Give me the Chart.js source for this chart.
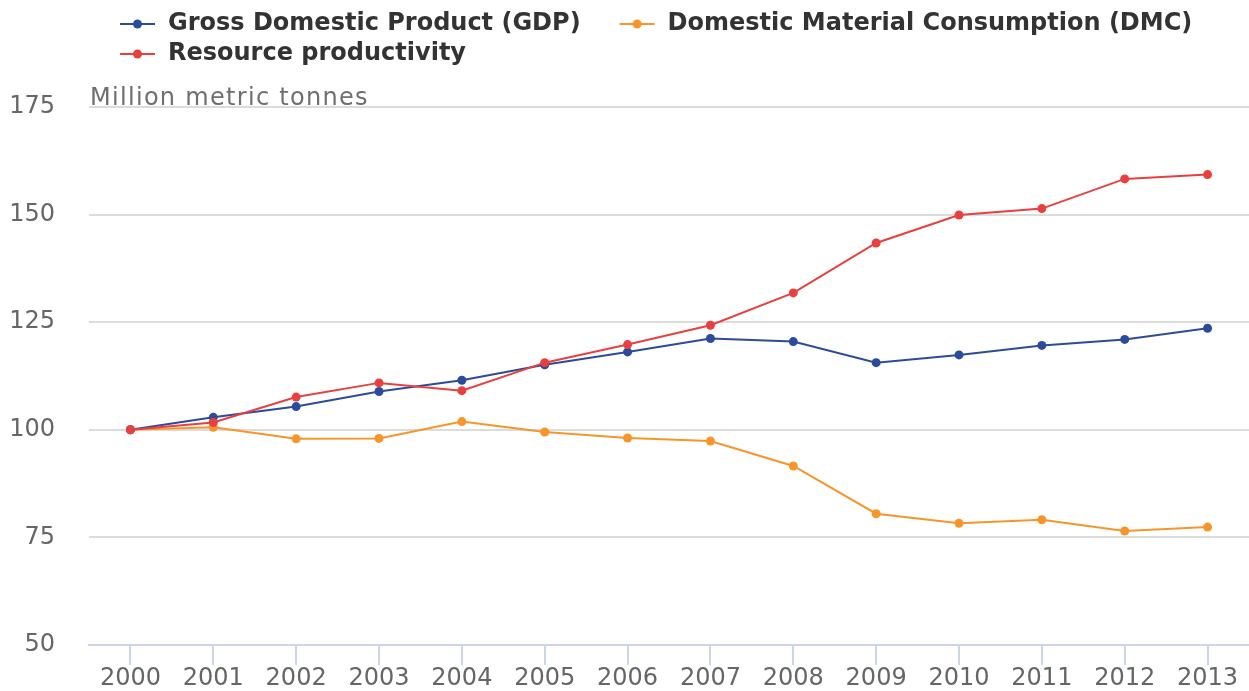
<!DOCTYPE html>
<html>
<head>
<meta charset="utf-8">
<script src="https://cdn.jsdelivr.net/npm/chart.js@4.4.1/dist/chart.umd.min.js"></script>
<style>
  html, body { margin: 0; padding: 0; background: #fff; }
  #wrap { width: 1249px; height: 691px; }
</style>
</head>
<body>
<div id="wrap"><canvas id="resourceChart" width="1249" height="691"></canvas></div>
<script>
const years = ["2000", "2001", "2002", "2003", "2004", "2005", "2006", "2007", "2008", "2009", "2010", "2011", "2012", "2013"];
const gdp = [100, 102.9, 105.4, 108.9, 111.5, 115.1, 118.1, 121.2, 120.5, 115.6, 117.4, 119.6, 121.0, 123.6];
const dmc = [100, 100.6, 97.9, 98.0, 101.9, 99.5, 98.1, 97.4, 91.6, 80.5, 78.3, 79.1, 76.5, 77.4];
const resourceProductivity = [100, 101.7, 107.6, 110.9, 109.1, 115.6, 119.8, 124.3, 131.8, 143.4, 149.9, 151.4, 158.3, 159.3];
const unitText = "Million metric tonnes";

const BLUE = "#2c4b9b";
const ORANGE = "#f7952a";
const RED = "#e8403f";

Chart.defaults.font.family = "'DejaVu Sans', sans-serif";

// little line-with-dot used as the legend symbol
const legendMarker = (color) => {
  const c = document.createElement("canvas");
  c.width = 69;
  c.height = 12;
  const ctx = c.getContext("2d");
  ctx.strokeStyle = color;
  ctx.lineWidth = 2;
  ctx.beginPath();
  ctx.moveTo(33, 6);
  ctx.lineTo(68, 6);
  ctx.stroke();
  ctx.fillStyle = color;
  ctx.beginPath();
  ctx.arc(50.5, 6, 4.5, 0, Math.PI * 2);
  ctx.fill();
  return c;
};

// pull the legend up to the top and line it up with the plot
const legendShift = {
  id: "legendShift",
  afterLayout(chart) {
    chart.legend.left = 81;
    chart.legend.top = 6;
  },
};

const unitLabel = {
  id: "unitLabel",
  afterDraw(chart) {
    const { ctx, chartArea } = chart;
    ctx.save();
    ctx.font = "24px 'DejaVu Sans'";
    ctx.letterSpacing = "1.3px";
    ctx.fillStyle = "#6f6f6f";
    ctx.textBaseline = "alphabetic";
    ctx.textAlign = "left";
    ctx.fillText(unitText, chartArea.left + 1, chartArea.top - 2);
    ctx.restore();
  },
};

const series = (label, data, color, order) => ({
  label,
  data,
  order,
  borderColor: color,
  backgroundColor: color,
  borderWidth: 2,
  pointRadius: 4.5,
  pointBorderWidth: 0,
  pointBackgroundColor: color,
  tension: 0,
});

new Chart(document.getElementById("resourceChart"), {
  type: "line",
  data: {
    labels: years,
    datasets: [
      series("Gross Domestic Product (GDP)", gdp, BLUE, 1),
      series("Domestic Material Consumption (DMC)", dmc, ORANGE, 2),
      series("Resource productivity", resourceProductivity, RED, 0),
    ],
  },
  options: {
    responsive: false,
    animation: false,
    layout: {
      autoPadding: false,
      padding: { top: 37, left: 0, right: 0, bottom: 0 },
    },
    plugins: {
      tooltip: { enabled: false },
      legend: {
        position: "top",
        align: "start",
        labels: {
          usePointStyle: true,
          pointStyleWidth: 69,
          padding: 6,
          color: "#333333",
          font: { size: 24, weight: "bold" },
          generateLabels: (chart) =>
            chart.data.datasets.map((ds, i) => ({
              text: ds.label,
              pointStyle: legendMarker(ds.borderColor),
              fillStyle: "transparent",
              strokeStyle: "transparent",
              lineWidth: 0,
              fontColor: "#333333",
              hidden: false,
              datasetIndex: i,
            })),
        },
      },
    },
    scales: {
      x: {
        offset: true,
        grid: {
          offset: false,
          drawOnChartArea: false,
          drawTicks: true,
          tickLength: 20,
          color: "#ccd6eb",
          lineWidth: 2,
        },
        border: { color: "#ccd6eb", width: 2 },
        ticks: {
          color: "#666666",
          font: { size: 24, lineHeight: 1.05 },
          padding: 1,
          maxRotation: 0,
          autoSkip: false,
        },
        afterFit: (scale) => {
          // plot runs right up to the canvas edge and down to the labels
          scale.height = 46;
          scale.paddingRight = 0;
          scale.paddingLeft = 0;
          scale.paddingTop = 0;
          scale.paddingBottom = 0;
        },
      },
      y: {
        min: 50,
        max: 175,
        ticks: {
          stepSize: 25,
          color: "#666666",
          font: { size: 24 },
          padding: 34,
        },
        grid: {
          drawTicks: false,
          lineWidth: 2,
          color: (c) => (c.tick && c.tick.value === 50 ? "rgba(0,0,0,0)" : "#dcdcdc"),
        },
        border: { display: false },
        afterFit: (scale) => {
          scale.width = 89;
          scale.paddingTop = 0;
          scale.paddingBottom = 0;
        },
      },
    },
  },
  plugins: [legendShift, unitLabel],
});
</script>
</body>
</html>
